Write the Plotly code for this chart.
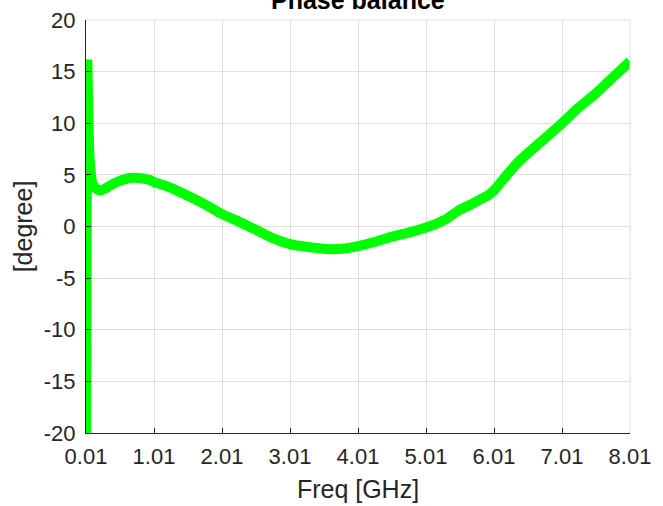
import plotly.graph_objects as go

freq_ghz = [0.01, 0.03, 0.045, 0.06, 0.08, 0.10, 0.15, 0.22, 0.30, 0.40, 0.50, 0.65, 0.80,
            0.95, 1.01, 1.20, 1.50, 1.80, 2.01, 2.25, 2.50, 2.75, 3.01, 3.30, 3.60,
            3.85, 4.01, 4.25, 4.50, 4.75, 5.01, 5.30, 5.50, 5.66, 5.80, 5.92, 6.01, 6.10,
            6.20, 6.39, 6.70, 7.01, 7.25, 7.51, 7.75, 8.01]
phase_deg = [-30.0, 15.7, 10.5, 7.0, 5.2, 4.3, 3.7, 3.5, 3.7, 4.1, 4.4, 4.7, 4.7,
             4.5, 4.3, 3.9, 3.0, 2.0, 1.2, 0.5, -0.3, -1.1, -1.7, -2.0, -2.2,
             -2.1, -1.9, -1.5, -1.0, -0.6, -0.1, 0.7, 1.6, 2.1, 2.6, 3.0, 3.5, 4.2,
             5.0, 6.4, 8.2, 10.0, 11.5, 12.9, 14.4, 16.0]

x_ticks = [0.01, 1.01, 2.01, 3.01, 4.01, 5.01, 6.01, 7.01, 8.01]
y_ticks = [-20, -15, -10, -5, 0, 5, 10, 15, 20]

font_family = "Arial, Liberation Sans, Helvetica, sans-serif"

fig = go.Figure()
fig.add_trace(go.Scatter(
    x=freq_ghz, y=phase_deg, mode="lines",
    line=dict(color="#00FF00", width=10, shape="spline", smoothing=0.5),
    showlegend=False, hoverinfo="skip",
))

axis_common = dict(
    showgrid=True, gridcolor="#DFDFDF", gridwidth=1,
    zeroline=False, ticks="inside", ticklen=5, tickcolor="#262626",
    tickfont=dict(family=font_family, size=22, color="#262626"),
    showline=True, linecolor="#262626", linewidth=1, mirror=False,
    automargin=False,
)

fig.update_layout(
    width=663, height=506,
    margin=dict(l=86, r=33, t=20, b=73),
    paper_bgcolor="white", plot_bgcolor="white",
    xaxis=dict(range=[0.01, 8.01], tickvals=x_ticks, ticktext=[f"{v:.2f}" for v in x_ticks],
               ticklabelstandoff=4,
               title=dict(text="Freq [GHz]", standoff=12,
                          font=dict(family=font_family, size=25, color="#262626")),
               **axis_common),
    yaxis=dict(range=[-20, 20], tickvals=y_ticks, ticktext=[str(v) for v in y_ticks],
               ticklabelstandoff=5,
               title=dict(text="[degree]", standoff=4,
                          font=dict(family=font_family, size=25, color="#262626")),
               **axis_common),
)

fig.add_annotation(text="<b>Phase balance</b>", xref="paper", yref="paper",
                   x=0.5, y=1, xanchor="center", yanchor="middle", yshift=20,
                   showarrow=False,
                   font=dict(family=font_family, size=25, color="black"))

# top and right box edges in grid colour
fig.add_shape(type="line", xref="paper", yref="paper", x0=0, x1=1, y0=1, y1=1,
              line=dict(color="#DFDFDF", width=1))
fig.add_shape(type="line", xref="paper", yref="paper", x0=1, x1=1, y0=0, y1=1,
              line=dict(color="#DFDFDF", width=1))

fig.write_html("out.html", config={"displayModeBar": False},
               post_script="document.body.style.margin='0';document.body.style.overflow='hidden';")
